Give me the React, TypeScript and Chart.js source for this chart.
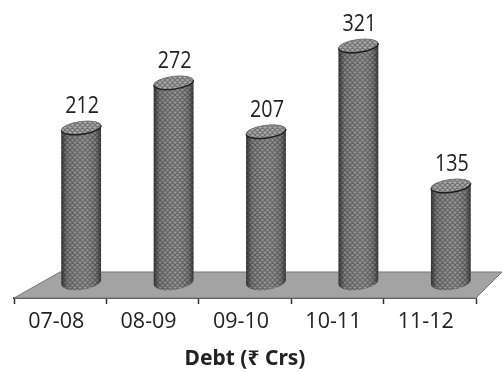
import { useEffect, useRef } from "react";
import { Chart, registerables } from "chart.js";

Chart.register(...registerables);

const categories = ["07-08", "08-09", "09-10", "10-11", "11-12"];
const debt = [212, 272, 207, 321, 135];
const axisTitle = "Debt (₹ Crs)";

const Y_MIN = -14;
const Y_MAX = 382;
const FLOOR_DEPTH = 26;
const FLOOR_SKEW = 46;
const COLUMN_SHIFT = 21;
const LABEL_FONT = '"Open Sans", sans-serif';
const VALUE_SQUEEZE = 0.82;

// Fine crosshatch used as the surface of the cylinders.
function makeHatch(ctx: CanvasRenderingContext2D, base: string, line: string) {
  const tile = document.createElement("canvas");
  tile.width = 5;
  tile.height = 5;
  const t = tile.getContext("2d")!;
  t.fillStyle = base;
  t.fillRect(0, 0, 5, 5);
  t.strokeStyle = line;
  t.lineWidth = 1.1;
  t.beginPath();
  for (let i = -5; i <= 10; i += 5) {
    t.moveTo(i, 0);
    t.lineTo(i + 5, 5);
    t.moveTo(i + 5, 0);
    t.lineTo(i, 5);
  }
  t.stroke();
  return ctx.createPattern(tile, "repeat")!;
}

// Skewed floor the columns stand on.
const floorPlugin = {
  id: "floor",
  beforeDatasetsDraw(chart: any) {
    const { ctx, chartArea: a } = chart;
    ctx.save();
    ctx.fillStyle = "#a3a3a3";
    ctx.beginPath();
    ctx.moveTo(a.left, a.bottom);
    ctx.lineTo(a.left + FLOOR_SKEW, a.bottom - FLOOR_DEPTH);
    ctx.lineTo(a.right + FLOOR_DEPTH, a.bottom - FLOOR_DEPTH);
    ctx.lineTo(a.right, a.bottom);
    ctx.closePath();
    ctx.fill();
    ctx.strokeStyle = "#777";
    ctx.lineWidth = 1;
    ctx.stroke();
    ctx.restore();
  },
};

// Turns each bar element into a tilted cylinder and writes its value above it.
const cylinderPlugin = {
  id: "cylinders",
  afterDatasetsDraw(chart: any) {
    const { ctx } = chart;
    const bars = chart.getDatasetMeta(0).data;
    const body = makeHatch(ctx, "#8c8c8c", "#5c5c5c");
    const cap = makeHatch(ctx, "#a8a8a8", "#707070");
    bars.forEach((bar: any, i: number) => {
      const x = bar.x + COLUMN_SHIFT;
      const rx = bar.width / 2;
      const top = bar.y;
      const bottom = bar.base - 5.5;
      const tilt = -0.13;
      const capRy = 6.4;
      ctx.save();

      const outline = () => {
        ctx.beginPath();
        ctx.ellipse(x, top, rx, capRy, tilt, 0, Math.PI, true);
        ctx.ellipse(x, bottom, rx, 8, tilt, Math.PI, 0, true);
        ctx.closePath();
      };
      outline();
      ctx.fillStyle = body;
      ctx.fill();

      const shade = ctx.createLinearGradient(x - rx, 0, x + rx, 0);
      shade.addColorStop(0, "rgba(25,25,25,0.75)");
      shade.addColorStop(0.15, "rgba(40,40,40,0.1)");
      shade.addColorStop(0.55, "rgba(255,255,255,0.05)");
      shade.addColorStop(0.87, "rgba(40,40,40,0.15)");
      shade.addColorStop(1, "rgba(25,25,25,0.7)");
      outline();
      ctx.fillStyle = shade;
      ctx.fill();

      ctx.beginPath();
      ctx.ellipse(x, top, rx, capRy, tilt, 0, Math.PI * 2);
      ctx.fillStyle = cap;
      ctx.fill();
      ctx.strokeStyle = "#777";
      ctx.lineWidth = 1;
      ctx.stroke();
      ctx.beginPath();
      ctx.ellipse(x, top, rx, capRy, tilt, 0, Math.PI, false);
      ctx.strokeStyle = "#1e1e1e";
      ctx.lineWidth = 1.4;
      ctx.stroke();

      // Value label, narrowed to a condensed look.
      ctx.translate(x + 1, top - 15);
      ctx.scale(VALUE_SQUEEZE, 1);
      ctx.fillStyle = "#222";
      ctx.font = `24px ${LABEL_FONT}`;
      ctx.textAlign = "center";
      ctx.textBaseline = "alphabetic";
      ctx.fillText(String(debt[i]), 0, 0);
      ctx.restore();
    });
  },
};

export default function App() {
  const ref = useRef<HTMLCanvasElement>(null);
  useEffect(() => {
    const chart = new Chart(ref.current!, {
      type: "bar",
      data: {
        labels: categories,
        datasets: [
          {
            data: debt,
            backgroundColor: "transparent",
            categoryPercentage: 1,
            barPercentage: 0.433,
          },
        ],
      },
      options: {
        responsive: false,
        animation: false,
        layout: { padding: { left: 14, right: 26, top: 0, bottom: 0 } },
        plugins: { legend: { display: false }, tooltip: { enabled: false } },
        scales: {
          x: {
            offset: true,
            afterFit(scale: any) {
              scale.height = 74;
            },
            border: { color: "#4a4a4a", width: 2 },
            grid: {
              drawOnChartArea: false,
              drawTicks: true,
              tickLength: 6,
              tickColor: "#333",
              tickWidth: 1.5,
            },
            ticks: {
              color: "#222",
              padding: 5,
              labelOffset: -4,
              maxRotation: 0,
              font: { family: LABEL_FONT, size: 21.5 },
            },
            title: {
              display: true,
              text: axisTitle,
              color: "#222",
              padding: { top: 6, bottom: 0 },
              font: { family: '"Noto Sans", sans-serif', size: 21, weight: "bold" },
            },
          },
          y: { display: false, min: Y_MIN, max: Y_MAX },
        },
      },
      plugins: [floorPlugin, cylinderPlugin],
    } as any);
    return () => chart.destroy();
  }, []);
  return (
    <canvas
      ref={ref}
      width={502}
      height={372}
      style={{ position: "absolute", left: 0, top: 0, width: 502, height: 372 }}
    />
  );
}
